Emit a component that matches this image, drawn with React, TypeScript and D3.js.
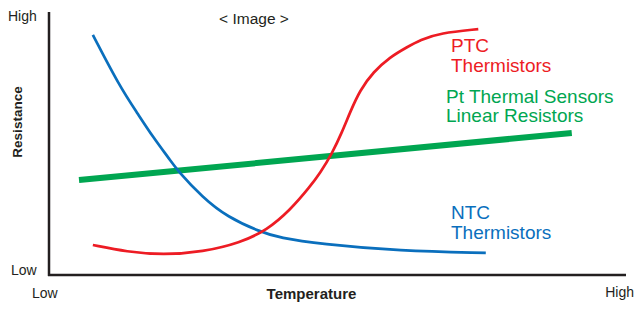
import React from "react";
import * as d3 from "d3";

const ntcX = [7.6, 12.3, 15.3, 18.0, 21.0, 22.2, 26.7, 30.9, 36.6, 40.0, 47.0, 60.8, 75.7];
const ntcY = [91.3, 71.5, 61.6, 52.5, 43.7, 39.9, 29.3, 22.1, 16.4, 14.1, 11.8, 9.1, 8.4];
const ptcX = [7.6, 13.5, 19.8, 26.7, 33.1, 37.8, 41.8, 45.2, 47.0, 49.1, 50.8, 52.2, 53.9, 56.2, 59.1, 62.1, 64.3, 67.8, 74.4];
const ptcY = [11.4, 8.8, 7.6, 8.8, 12.2, 17.1, 24.7, 33.5, 38.8, 46.4, 54.4, 62.0, 70.3, 77.2, 82.9, 86.7, 89.4, 92.0, 93.5];
const ptX = [5.2, 90.6];
const ptY = [36.1, 54.0];

const W = 644, H = 311;
const FONT = "'Liberation Sans', Arial, sans-serif";

export default function App() {
  const x = d3.scaleLinear().domain([0, 100]).range([49, 626]);
  const y = d3.scaleLinear().domain([0, 100]).range([275, 12]);
  const line = d3.line<[number, number]>().x(d => x(d[0])).y(d => y(d[1])).curve(d3.curveBasis);
  const straight = d3.line<[number, number]>().x(d => x(d[0])).y(d => y(d[1]));
  const zip = (a: number[], b: number[]) => a.map((v, i) => [v, b[i]] as [number, number]);

  return (
    <svg width={W} height={H} style={{ position: "absolute", left: 0, top: 0, background: "#fff" }} fontFamily={FONT}>
      <path d={straight(zip(ptX, ptY)) || ""} stroke="#00a651" strokeWidth={6} fill="none" />
      <path d={line(zip(ntcX, ntcY)) || ""} stroke="#0a6fbd" strokeWidth={2.7} fill="none" />
      <path d={line(zip(ptcX, ptcY)) || ""} stroke="#ed1c24" strokeWidth={2.7} fill="none" />
      <line x1={x(0)} x2={x(0)} y1={y(100)} y2={y(0) + 1} stroke="#231f20" strokeWidth={2.5} />
      <line x1={x(0) - 1} x2={x(100)} y1={y(0)} y2={y(0)} stroke="#231f20" strokeWidth={2.5} />

      <text x={8} y={21} fontSize={14} fill="#231f20">High</text>
      <text x={11} y={275} fontSize={14} fill="#231f20">Low</text>
      <text x={32} y={298} fontSize={14} fill="#231f20">Low</text>
      <text x={634} y={297} fontSize={14} fill="#231f20" textAnchor="end">High</text>
      <text x={254} y={24} fontSize={15.5} fill="#231f20" textAnchor="middle">&lt; Image &gt;</text>
      <text x={311.5} y={299} fontSize={15} fontWeight="bold" fill="#231f20" textAnchor="middle">Temperature</text>
      <text transform="translate(22,122) rotate(-90)" fontSize={13.5} fontWeight="bold" fill="#231f20" textAnchor="middle">Resistance</text>

      <text x={451} y={52} fontSize={19} fill="#ed1c24">PTC</text>
      <text x={451} y={72} fontSize={19} fill="#ed1c24">Thermistors</text>
      <text x={446} y={103} fontSize={19} fill="#00a651">Pt Thermal Sensors</text>
      <text x={446} y={122} fontSize={19} fill="#00a651">Linear Resistors</text>
      <text x={451} y={219} fontSize={19} fill="#0a6fbd">NTC</text>
      <text x={451} y={239} fontSize={19} fill="#0a6fbd">Thermistors</text>
    </svg>
  );
}
